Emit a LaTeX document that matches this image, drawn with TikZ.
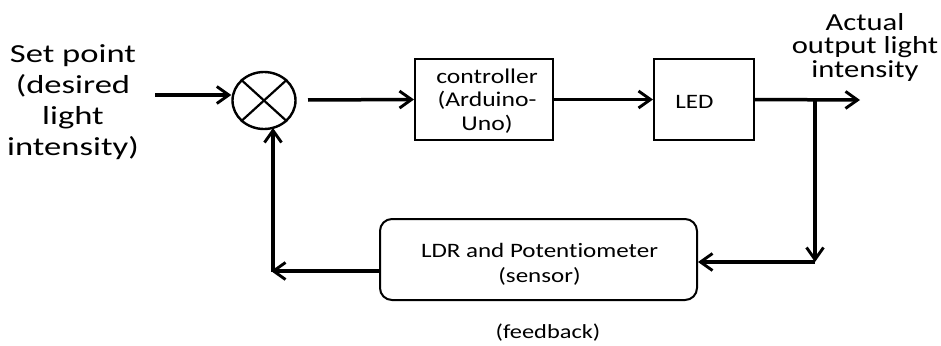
\documentclass[tikz,border=0pt]{standalone}
\usepackage{fontspec}
\setmainfont{Carlito}[Ligatures=NoCommon]
\newfontfamily\widebig{Carlito}[FakeStretch=1.33,Ligatures=NoCommon]
\newfontfamily\widemid{Carlito}[FakeStretch=1.25,Ligatures=NoCommon]
\newfontfamily\widesmall{Carlito}[FakeStretch=1.22,Ligatures=NoCommon]
\usetikzlibrary{arrows.meta,shapes.geometric}
\tikzset{
  blockbox/.style={draw, line width=2pt, inner sep=0pt},
  sensebox/.style={blockbox, rounded corners=12pt},
  sigline/.style={line width=3.5pt, -{Straight Barb[length=12pt,width=17pt,line width=2.9pt]}},
  bigtext/.style={align=center, inner sep=0pt, anchor=base},
  boxtext/.style={align=center, inner sep=0pt, anchor=base}
}
\begin{document}
\begin{tikzpicture}[x=1pt,y=-1pt]
\useasboundingbox (0,0) rectangle (941,345);

% input label and summing junction (text nodes are placed by the baseline of their last line)
\node[bigtext, font=\widebig\fontsize{26}{31}\selectfont] (setpt) at (73,155)
  {Set point\\(desired\\light\\intensity)};
\node[draw, ellipse, line width=2.4pt, minimum width=63pt, minimum height=57pt, inner sep=0pt] (sum) at (264,100.5) {};
\draw[line width=2.2pt] (sum.north east) -- (sum.south west);
\draw[line width=2.2pt] (sum.north west) -- (sum.south east);

% forward path blocks
\node[blockbox, minimum width=138pt, minimum height=81pt] (ctrl) at (484,99.5) {};
\node[boxtext, font=\widesmall\fontsize{21}{23.5}\selectfont] (ctrltxt) at (487,130)
  {controller\\(Arduino-\\Uno)};
\node[blockbox, minimum width=100pt, minimum height=81pt] (led) at (704,99.5) {};
\node[boxtext, font=\widesmall\fontsize{20.5}{24}\selectfont] (ledtxt) at (694.5,108) {LED};

% feedback block
\node[sensebox, minimum width=317pt, minimum height=81pt] (sensor) at (538.5,259.5) {};
\node[boxtext, font=\widesmall\fontsize{20.5}{25}\selectfont] (sensortxt) at (539.5,282)
  {LDR and Potentiometer\\(sensor)};

% output label and caption
\node[bigtext, font=\widemid\fontsize{24.5}{23.5}\selectfont] (outlbl) at (865,77)
  {Actual\\output light\\intensity};
\node[boxtext, font=\widesmall\fontsize{20}{24}\selectfont] (fblbl) at (548,338) {(feedback)};

% helper points
\coordinate (inst) at (155,95);
\coordinate (sumout) at (308,100);
\coordinate (outend) at (860,100);
\coordinate (br) at (815,100);
\coordinate (brb) at (815,262);
\coordinate (fbr) at (380,271);
\coordinate (fbl) at (271,271);
\coordinate (fbup) at (273,272);
\coordinate (fbtop) at (273,128);

% connectors
\draw[sigline] (inst) -- (inst -| sum.west);
\draw[sigline] (sumout) -- (ctrl.west);
\draw[sigline] (ctrl.east) -- (led.west);
\draw[sigline] (led.east) -- (outend);
\draw[sigline] (br) -- (brb);
\draw[sigline] (brb) -- (brb -| sensor.east);
\draw[sigline] (fbr) -- (fbl);
\draw[sigline] (fbup) -- (fbtop);
\end{tikzpicture}
\end{document}
